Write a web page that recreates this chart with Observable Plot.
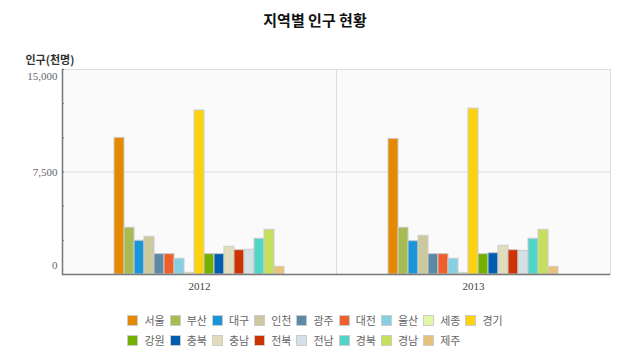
<!DOCTYPE html>
<html><head><meta charset="utf-8">
<script src="https://cdn.jsdelivr.net/npm/d3@7"></script>
<script src="https://cdn.jsdelivr.net/npm/@observablehq/plot@0.6"></script>
<style>
body{margin:0;background:#fff;font-family:"Noto Sans CJK KR",sans-serif;}
#title{height:40px;line-height:40px;text-align:center;font-weight:bold;font-size:15px;color:#111;}
#chart svg{display:block;overflow:visible;}
#legend{display:grid;grid-template-columns:repeat(9,auto);justify-content:center;column-gap:5px;margin-top:4px;}
.item{display:flex;align-items:center;height:20px;font-size:11px;color:#666;white-space:nowrap;}
.sw{width:9px;height:9px;border:1px solid #ccc;margin-right:6px;}
</style></head><body>
<div id="title"></div><div id="chart"></div><div id="legend"></div>
<script>
const title = "지역별 인구 현황";
const yLabel = "인구(천명)";
const years = ["2012", "2013"];
const regions = ["서울","부산","대구","인천","광주","대전","울산","세종","경기","강원","충북","충남","전북","전남","경북","경남","제주"];
const colors = ["#e58a00","#a6bb52","#1a96d8","#cbc99d","#5b89a6","#f05e2a","#86cfe3","#e3f5a6","#ffd20f","#73b000","#005eb0","#e1dcbb","#cc3300","#d3e0e6","#52d5c9","#c5e05a","#e6c27a"];
const pop2012 = [10000,3420,2470,2760,1490,1490,1150,120,12000,1490,1490,2030,1780,1810,2610,3270,560];
const pop2013 = [9920,3420,2440,2830,1490,1490,1150,120,12140,1490,1560,2100,1780,1730,2610,3270,560];
const yLabelTicks = [0, 7500, 15000];
const yMinorTicks = [0, 2500, 5000, 7500, 10000, 12500, 15000];

document.getElementById("title").textContent = title;

const series = [pop2012, pop2013];
const data = years.flatMap((yr, i) => regions.map((r, j) => ({year: yr, region: r, value: series[i][j]})));
const numFont = "'Liberation Serif', serif";
const fmt = d3.format(",");

const plot = Plot.plot({
  width: 630, height: 266,
  marginTop: 29, marginBottom: 32, marginLeft: 62, marginRight: 20,
  style: {fontFamily: "'Noto Sans CJK KR', sans-serif", fontSize: "11px", background: "transparent", overflow: "visible"},
  fx: {domain: years, padding: 0, label: null},
  x: {domain: regions, padding: 0, insetLeft: 52, insetRight: 52, axis: null},
  y: {domain: [0, 15000]},
  color: {domain: regions, range: colors},
  marks: [
    Plot.frame({fill: "#fafafa", stroke: "#ddd"}),
    Plot.gridY([yLabelTicks[1]], {stroke: "#ddd", strokeOpacity: 1}),
    Plot.barY(data, {fx: "year", x: "region", y: "value", fill: "region", stroke: "#ccc", strokeWidth: 1}),
    Plot.ruleY([0], {stroke: "#777", strokeWidth: 1.5}),
    Plot.frame({anchor: "left", stroke: "#777", strokeWidth: 1.5, facetAnchor: "left"}),
    Plot.axisY({ticks: yMinorTicks, tickSize: 2, dx: 2, tickFormat: () => "", stroke: "#777", label: null}),
    Plot.axisY({ticks: [yLabelTicks[2]], tickSize: 0, tickPadding: 5, dy: 7, tickFormat: fmt, fontFamily: numFont, fill: "#666", label: null}),
    Plot.axisY({ticks: [yLabelTicks[1]], tickSize: 0, tickPadding: 5, tickFormat: fmt, fontFamily: numFont, fill: "#666", label: null}),
    Plot.axisY({ticks: [yLabelTicks[0]], tickSize: 0, tickPadding: 5, dy: -9, tickFormat: fmt, fontFamily: numFont, fill: "#666", label: null}),
    Plot.text([yLabel], {text: d => d, frameAnchor: "top-left", textAnchor: "start", lineAnchor: "middle", dx: -37, dy: -9, facetAnchor: "left", fontWeight: "bold", fill: "#333"}),
    Plot.axisFx({anchor: "bottom", tickSize: 0, tickPadding: 8, label: null, fontFamily: numFont, fill: "#444"})
  ]
});
document.getElementById("chart").appendChild(plot);

const legend = document.getElementById("legend");
regions.forEach((r, i) => {
  const it = document.createElement("div");
  it.className = "item";
  const sw = document.createElement("span");
  sw.className = "sw";
  sw.style.background = colors[i];
  const t = document.createElement("span");
  t.textContent = r;
  it.appendChild(sw); it.appendChild(t);
  legend.appendChild(it);
});
</script>
</body></html>
